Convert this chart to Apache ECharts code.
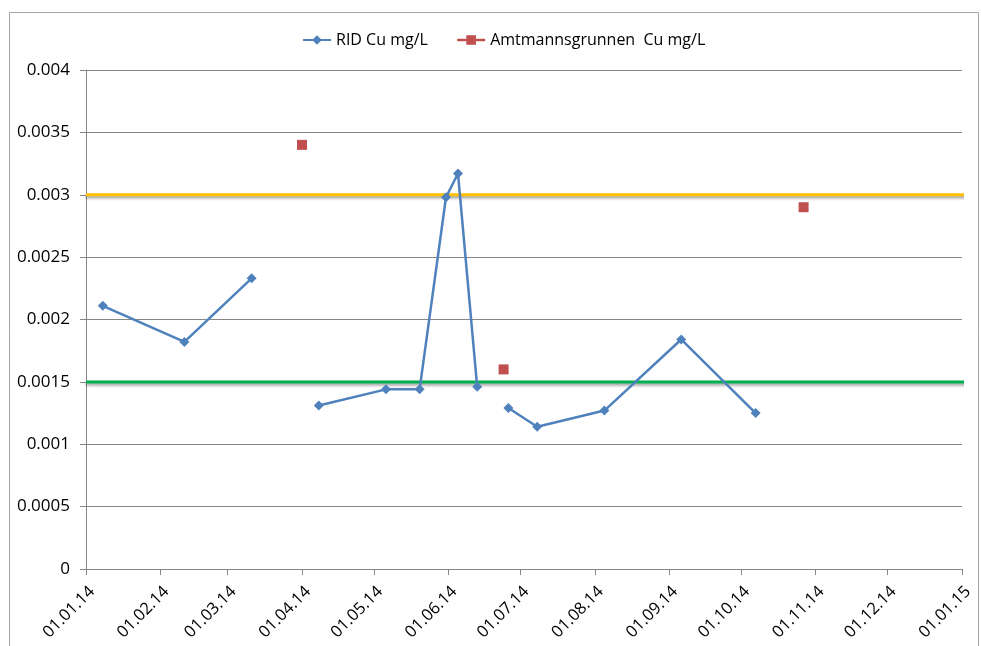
<!DOCTYPE html>
<html>
<head>
<meta charset="utf-8">
<script src="https://cdn.jsdelivr.net/npm/echarts@6/dist/echarts.min.js"></script>
<style>
html,body{margin:0;padding:0;background:#fff;}
#c{width:981px;height:646px;}
</style>
</head>
<body>
<div id="c"></div>
<script>
// Data (null = gap in the series)
var ridDates = ['2014-01-08','2014-02-11','2014-03-11','2014-03-25','2014-04-08','2014-05-06','2014-05-20','2014-05-31','2014-06-05','2014-06-13','2014-06-19','2014-06-26','2014-07-08','2014-08-05','2014-09-06','2014-10-07'];
var ridValues = [0.00211,0.00182,0.00233,null,0.00131,0.00144,0.00144,0.00298,0.00317,0.00146,null,0.00129,0.00114,0.00127,0.00184,0.00125];
var amtDates = ['2014-04-01','2014-05-10','2014-06-24','2014-08-20','2014-10-27'];
var amtValues = [0.0034,null,0.0016,null,0.0029];
var refUpper = 0.003;
var refLower = 0.0015;
var refDates = ['2014-01-01','2015-01-04'];
var xMin = '2014-01-01', xMax = '2015-01-01';
var yTicks = [0,0.0005,0.001,0.0015,0.002,0.0025,0.003,0.0035,0.004];

var pair = function(ds, vs){ return ds.map(function(d,i){ return [d, vs[i]]; }); };
var FONT = "'Open Sans', 'Liberation Sans', sans-serif";
var chart = echarts.init(document.getElementById('c'));
function fmtDate(v){
  var d = new Date(v);
  var p = function(n){ return (n<10?'0':'')+n; };
  return p(d.getDate())+'.'+p(d.getMonth()+1)+'.'+p(d.getFullYear()%100);
}
chart.setOption({
  animation:false,
  backgroundColor:'#fff',
  graphic:[{type:'rect',shape:{x:9.5,y:12.5,width:969,height:700},style:{fill:'none',stroke:'#a6a6a6',lineWidth:1},silent:true}],
  legend:{
    top:27, left:297, itemGap:28, itemWidth:28, itemHeight:12,
    textStyle:{fontFamily:FONT,fontSize:16,color:'#000'},
    data:[
      {name:'RID Cu mg/L'},
      {name:'Amtmannsgrunnen  Cu mg/L', lineStyle:{width:2.5,color:'#C0504D',opacity:1}}
    ]
  },
  grid:{left:86,right:19,top:70,bottom:77,containLabel:false},
  xAxis:{
    type:'time', min:xMin, max:xMax, splitNumber:12,
    minInterval:28*86400000, maxInterval:31*86400000,
    axisLine:{lineStyle:{color:'#868686'}},
    axisTick:{show:true,length:6,lineStyle:{color:'#868686'}},
    splitLine:{show:false},
    axisLabel:{rotate:45,fontFamily:FONT,fontSize:16.5,color:'#000',margin:14,verticalAlign:'top',
      showMinLabel:true,showMaxLabel:true,hideOverlap:false,
      formatter:function(v){return fmtDate(v);}}
  },
  yAxis:{
    type:'value', min:yTicks[0], max:yTicks[yTicks.length-1], interval:yTicks[1]-yTicks[0],
    axisLine:{show:true,lineStyle:{color:'#868686'}},
    axisTick:{show:true,length:6,lineStyle:{color:'#868686'}},
    splitLine:{lineStyle:{color:'#868686',width:1}},
    axisLabel:{fontFamily:FONT,fontSize:17,color:'#000',margin:16,
      formatter:function(v){return String(+v.toFixed(4));}}
  },
  series:[
    {name:'upper',type:'line',data:pair(refDates,[refUpper,refUpper]),symbol:'none',clip:false,silent:true,
     lineStyle:{color:'#FFC000',width:3,shadowColor:'rgba(0,0,0,0.4)',shadowBlur:3,shadowOffsetY:2},z:3},
    {name:'lower',type:'line',data:pair(refDates,[refLower,refLower]),symbol:'none',clip:false,silent:true,
     lineStyle:{color:'#00B050',width:3,shadowColor:'rgba(0,0,0,0.4)',shadowBlur:3,shadowOffsetY:2},z:3},
    {name:'RID Cu mg/L',type:'line',data:pair(ridDates,ridValues),connectNulls:false,
     symbol:'diamond',symbolSize:10,showSymbol:true,
     lineStyle:{color:'#4F81BD',width:2.5},itemStyle:{color:'#4F81BD'},z:5},
    {name:'Amtmannsgrunnen  Cu mg/L',type:'line',data:pair(amtDates,amtValues),connectNulls:false,
     symbol:'rect',symbolSize:10,showSymbol:true,
     lineStyle:{color:'#C0504D',width:2.5},itemStyle:{color:'#C0504D'},z:5}
  ]
});
</script>
</body>
</html>
